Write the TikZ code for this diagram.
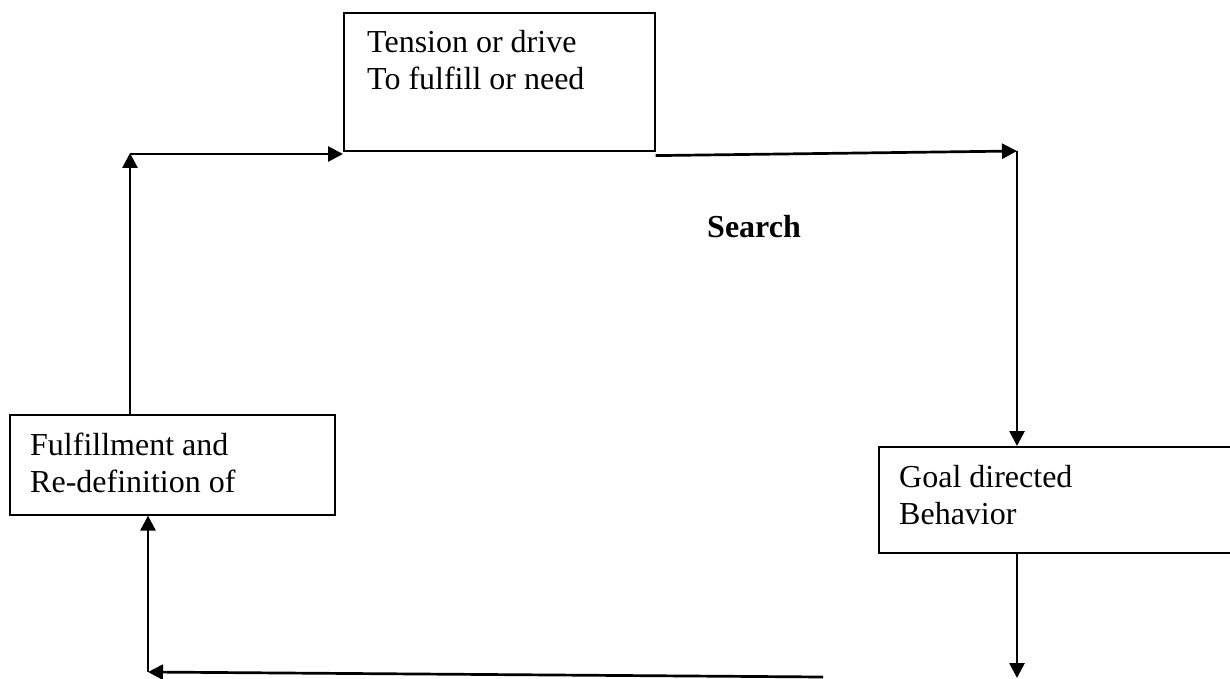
\documentclass[tikz,border=0pt]{standalone}
\usepackage{fontspec}
\setmainfont{Liberation Serif}
\usetikzlibrary{arrows.meta,calc}
\begin{document}
\begin{tikzpicture}[x=1pt,y=-1pt,
  box/.style={draw=black,line width=1.6pt,rectangle,inner sep=0pt,anchor=north west},
  lbl/.style={anchor=base west,inner sep=0pt,font=\fontsize{32}{37}\selectfont},
  arr/.style={draw=black,line width=2.7pt,-{Triangle[length=15pt,width=15pt]}}]
\useasboundingbox (0,0) rectangle (1230,679);
\clip (0,0) rectangle (1230,679);
% boxes
\node[box,minimum width=311pt,minimum height=138pt] (tbox) at (343,12) {};
\node[box,minimum width=325pt,minimum height=100pt] (lbox) at (9,414) {};
\node[box,minimum width=362pt,minimum height=106pt] (rbox) at (878,446) {};
% texts
\node[lbl] (t1) at (367,53) {Tension or drive};
\node[lbl] (t2) at (367,90) {To fulfill or need};
\node[lbl] (l1) at (30,455) {Fulfillment and};
\node[lbl] (l2) at (30,492) {Re-definition of};
\node[lbl] (r1) at (899,487) {Goal directed};
\node[lbl] (r2) at (899,524) {Behavior};
\node[lbl,font=\fontsize{32}{37}\selectfont\bfseries] (search) at (707,237) {Search};
% connector points
\coordinate (ctl) at (130,153);
\coordinate (ctr) at (1017,151);
\coordinate (cbr) at (1017,678);
\coordinate (cbs) at (823,677);
\coordinate (cbl) at (148,672);
% connectors
\draw[arr] (lbox.north -| ctl) -- (ctl);
\draw[arr] ([yshift=-1pt]ctl) -- ([yshift=-1pt]ctl -| tbox.west);
\draw[arr] ([yshift=-4pt]tbox.south east) -- (ctr);
\draw[arr] (ctr) -- (ctr |- rbox.north);
\draw[arr] (rbox.south -| ctr) -- (cbr);
\draw[arr] (cbs) -- (cbl);
\draw[arr] (cbl) -- (cbl |- lbox.south);
\end{tikzpicture}
\end{document}
